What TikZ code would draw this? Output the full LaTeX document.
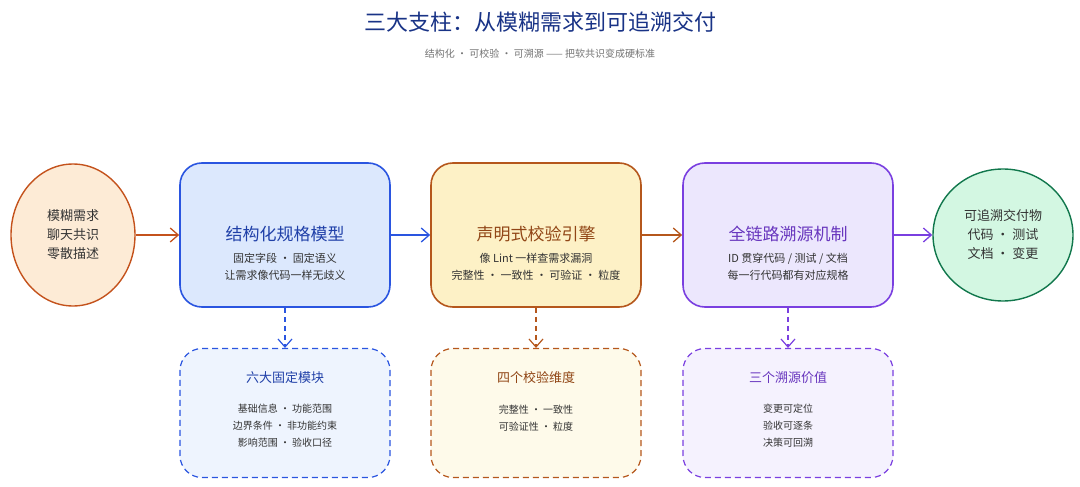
\documentclass[tikz,border=0pt]{standalone}
\usepackage{fontspec}
\setmainfont{Noto Sans CJK SC}
\usetikzlibrary{arrows.meta, shapes.geometric}
\definecolor{bluedraw}{HTML}{2A55E0}
\definecolor{bluefill}{HTML}{DCE8FD}
\definecolor{bluelite}{HTML}{EEF4FE}
\definecolor{orgdraw}{HTML}{B5571C}
\definecolor{orgfill}{HTML}{FDF1C6}
\definecolor{orglite}{HTML}{FEFAEA}
\definecolor{purdraw}{HTML}{7A3FE0}
\definecolor{purfill}{HTML}{ECE7FD}
\definecolor{purlite}{HTML}{F5F2FE}
\definecolor{grndraw}{HTML}{11774C}
\definecolor{grnfill}{HTML}{D3F7E2}
\definecolor{reddraw}{HTML}{C4521C}
\definecolor{redfill}{HTML}{FDEBD6}
\definecolor{txt}{HTML}{333333}
\tikzset{
  pillar/.style={
    rounded corners=22pt,
    draw,
    line width=1.6pt,
    minimum width=210pt,
    minimum height=144pt,
  },
  detail/.style={
    rounded corners=22pt,
    draw,
    dashed,
    dash pattern=on 6pt off 4pt,
    line width=1.2pt,
    minimum width=210pt,
    minimum height=129pt,
  },
  endpoint/.style={
    ellipse,
    draw,
    line width=1.4pt,
    align=center,
    font=\fontsize{13}{19}\selectfont,
    text=txt,
  },
  flow/.style={line width=1.3pt, -{Straight Barb[length=8pt,width=14pt]}},
  drill/.style={line width=1.2pt, dashed, dash pattern=on 5pt off 4pt, -{Straight Barb[length=8pt,width=14pt]}},
  head/.style={font=\fontsize{17}{20}\selectfont},
  sub/.style={font=\fontsize{11}{17}\selectfont, text=txt, align=center},
  small/.style={font=\fontsize{10}{17}\selectfont, text=txt, align=center},
}
\begin{document}
\begin{tikzpicture}[x=1pt, y=-1pt]
  \useasboundingbox (0,0) rectangle (1080,487);

  \node[font=\fontsize{22}{26}\selectfont, text=bluedraw!60!black] (title) at (540,22) {三大支柱：从模糊需求到可追溯交付};
  \node[font=\fontsize{10}{12}\selectfont, text=black!55] (subtitle) at (540,54) {结构化 · 可校验 · 可溯源 —— 把软共识变成硬标准};

  % inputs and outputs
  \node[endpoint, draw=reddraw, fill=redfill, minimum width=124pt, minimum height=142pt] (fuzzy) at (73,235) {模糊需求\\聊天共识\\零散描述};
  \node[endpoint, draw=grndraw, fill=grnfill, minimum width=140pt, minimum height=132pt] (deliver) at (1003,235) {可追溯交付物\\代码 · 测试\\文档 · 变更};

  % pillars
  \node[pillar, draw=bluedraw, fill=bluefill] (spec) at (285,235) {};
  \node[pillar, draw=orgdraw, fill=orgfill] (lint) at (536,235) {};
  \node[pillar, draw=purdraw, fill=purfill] (trace) at (788,235) {};

  \node[head, text=bluedraw!75!black] (spect) at (285,234) {结构化规格模型};
  \node[sub] (specs) at (285,267) {固定字段 · 固定语义\\让需求像代码一样无歧义};
  \node[head, text=orgdraw!80!black] (lintt) at (536,234) {声明式校验引擎};
  \node[sub] (lints) at (536,267) {像 Lint 一样查需求漏洞\\完整性 · 一致性 · 可验证 · 粒度};
  \node[head, text=purdraw!85!black] (tracet) at (788,234) {全链路溯源机制};
  \node[sub] (traces) at (788,267) {ID 贯穿代码 / 测试 / 文档\\每一行代码都有对应规格};

  % details
  \node[detail, draw=bluedraw, fill=bluelite] (six) at (285,413) {};
  \node[detail, draw=orgdraw, fill=orglite] (four) at (536,413) {};
  \node[detail, draw=purdraw, fill=purlite] (three) at (788,413) {};

  \node[font=\fontsize{13}{16}\selectfont, text=bluedraw!75!black] (sixt) at (285,378) {六大固定模块};
  \node[small] (sixs) at (285,426) {基础信息 · 功能范围\\边界条件 · 非功能约束\\影响范围 · 验收口径};
  \node[font=\fontsize{13}{16}\selectfont, text=orgdraw!80!black] (fourt) at (536,378) {四个校验维度};
  \node[small] (fours) at (536,418) {完整性 · 一致性\\可验证性 · 粒度};
  \node[font=\fontsize{13}{16}\selectfont, text=purdraw!85!black] (threet) at (788,378) {三个溯源价值};
  \node[small] (threes) at (788,426) {变更可定位\\验收可逐条\\决策可回溯};

  \draw[flow, draw=reddraw] (fuzzy) -- (spec);
  \draw[flow, draw=bluedraw] (spec) -- (lint);
  \draw[flow, draw=orgdraw] (lint) -- (trace);
  \draw[flow, draw=purdraw] (trace) -- (deliver);

  \draw[drill, draw=bluedraw] (spec) -- (six);
  \draw[drill, draw=orgdraw] (lint) -- (four);
  \draw[drill, draw=purdraw] (trace) -- (three);
\end{tikzpicture}
\end{document}
